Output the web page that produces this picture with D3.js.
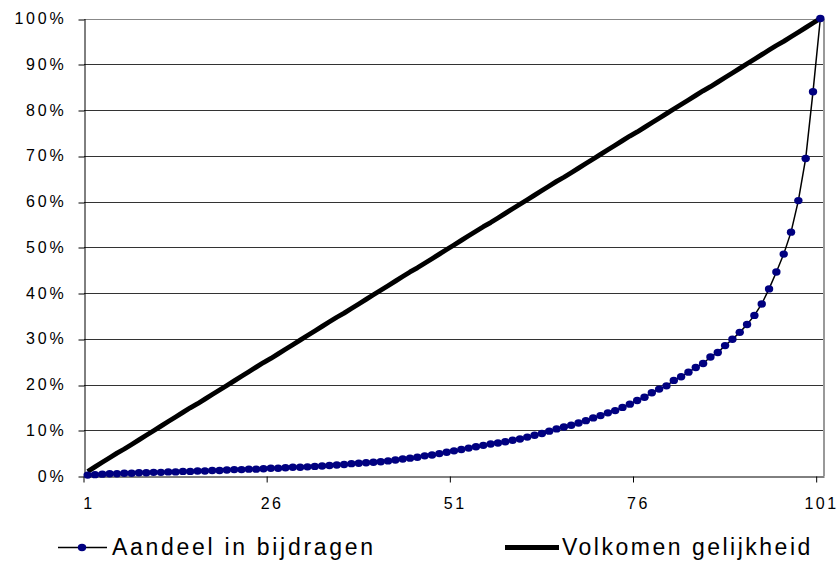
<!DOCTYPE html>
<html><head><meta charset="utf-8">
<script src="https://cdn.jsdelivr.net/npm/d3@7/dist/d3.min.js"></script>
<style>html,body{margin:0;padding:0;background:#fff;} svg{display:block;}</style>
</head><body>
<svg id="chart" width="838" height="562"></svg>
<script>
const categories = [1,2,3,4,5,6,7,8,9,10,11,12,13,14,15,16,17,18,19,20,21,22,23,24,25,26,27,28,29,30,31,32,33,34,35,36,37,38,39,40,41,42,43,44,45,46,47,48,49,50,51,52,53,54,55,56,57,58,59,60,61,62,63,64,65,66,67,68,69,70,71,72,73,74,75,76,77,78,79,80,81,82,83,84,85,86,87,88,89,90,91,92,93,94,95,96,97,98,99,100,101];
const aandeel = [0.2,0.3,0.4,0.5,0.5,0.6,0.6,0.7,0.7,0.8,0.8,0.9,0.9,1.0,1.0,1.1,1.1,1.2,1.2,1.3,1.4,1.4,1.5,1.5,1.6,1.7,1.7,1.8,1.9,1.9,2.0,2.1,2.2,2.3,2.4,2.5,2.7,2.8,2.9,3.0,3.1,3.3,3.5,3.7,3.9,4.1,4.4,4.6,4.9,5.2,5.5,5.8,6.1,6.4,6.7,7.0,7.2,7.5,7.8,8.1,8.5,8.9,9.3,9.8,10.3,10.7,11.1,11.6,12.1,12.7,13.2,13.8,14.3,15.0,15.7,16.5,17.2,18.2,19.0,19.7,20.9,21.7,22.7,23.7,24.6,26.0,27.0,28.5,29.9,31.4,33.1,35.1,37.6,40.9,44.6,48.5,53.3,60.2,69.4,84.0,100.0];
const gelijkheid = [1.0,2.0,3.0,4.0,5.0,5.9,6.9,7.9,8.9,9.9,10.9,11.9,12.9,13.9,14.9,15.8,16.8,17.8,18.8,19.8,20.8,21.8,22.8,23.8,24.8,25.7,26.7,27.7,28.7,29.7,30.7,31.7,32.7,33.7,34.7,35.6,36.6,37.6,38.6,39.6,40.6,41.6,42.6,43.6,44.6,45.5,46.5,47.5,48.5,49.5,50.5,51.5,52.5,53.5,54.5,55.4,56.4,57.4,58.4,59.4,60.4,61.4,62.4,63.4,64.4,65.3,66.3,67.3,68.3,69.3,70.3,71.3,72.3,73.3,74.3,75.2,76.2,77.2,78.2,79.2,80.2,81.2,82.2,83.2,84.2,85.1,86.1,87.1,88.1,89.1,90.1,91.1,92.1,93.1,94.1,95.0,96.0,97.0,98.0,99.0,100.0];
const xTickValues = [1,26,51,76,101];
const yTickValues = [0,10,20,30,40,50,60,70,80,90,100];
const seriesNames = ["Aandeel in bijdragen","Volkomen gelijkheid"];

const FONT = "Arial, 'Liberation Sans', sans-serif";
const svg = d3.select("#chart");
const L = 84, R = 824, T = 18.5, B = 476;

const x = d3.scaleBand().domain(categories).range([L, R]).padding(0);
const bw = x.bandwidth();
const cx = d => x(d) + bw / 2;
const y = d3.scaleLinear().domain([0, 100]).range([B, T]);
const snap = v => Math.round(v) + 0.5;

// gridlines
svg.append("g").selectAll("line").data(yTickValues.filter(v => v > 0)).join("line")
  .attr("x1", L).attr("x2", R)
  .attr("y1", d => snap(y(d))).attr("y2", d => snap(y(d)))
  .attr("stroke", d => d === 100 ? "#888" : "#333").attr("stroke-width", 1);

// right border
svg.append("line").attr("x1", R).attr("x2", R).attr("y1", snap(y(100)) - 0.5).attr("y2", B)
  .attr("stroke", "#999").attr("stroke-width", 2);

// y axis
const yAxis = svg.append("g").attr("transform", `translate(${L + 0.5},0)`)
  .call(d3.axisLeft(y).tickValues(yTickValues).tickSize(6).tickSizeOuter(0).tickPadding(12).tickFormat(d => d + "%"));
yAxis.select(".domain").attr("stroke", "#000");
yAxis.selectAll(".tick line").attr("stroke", "#000").attr("transform", function(d){ return `translate(0,${snap(y(d)) - y(d)})`; });
yAxis.selectAll("text").attr("font-family", FONT).attr("font-size", 16).attr("letter-spacing", "2.8px").attr("fill", "#000");

// x axis
const xAxis = svg.append("g").attr("transform", `translate(0,${B + 0.5})`)
  .call(d3.axisBottom(x).tickValues(xTickValues).tickSize(6).tickSizeOuter(0).tickPadding(15));
xAxis.select(".domain").attr("stroke", "#000");
xAxis.selectAll(".tick line").attr("stroke", "#000").attr("x1", -bw / 2).attr("x2", -bw / 2);
xAxis.selectAll("text").attr("font-family", FONT).attr("font-size", 16).attr("letter-spacing", "2.5px").attr("fill", "#000").attr("dx", "1.2px");

// equality line
svg.append("path").datum(categories)
  .attr("fill", "none").attr("stroke", "#000").attr("stroke-width", 4.8).attr("stroke-linejoin", "round")
  .attr("d", d3.line().x(d => cx(d)).y((d, i) => y(gelijkheid[i])));

// Lorenz line
svg.append("path").datum(categories)
  .attr("fill", "none").attr("stroke", "#000").attr("stroke-width", 1.5)
  .attr("d", d3.line().x(d => cx(d)).y((d, i) => y(aandeel[i])));

svg.append("g").selectAll("ellipse").data(categories).join("ellipse")
  .attr("cx", d => cx(d)).attr("cy", (d, i) => y(aandeel[i]))
  .attr("rx", 4.2).attr("ry", 3.7).attr("fill", "#000080");

// legend
const lg = svg.append("g");
const ly = 547.5;
lg.append("line").attr("x1", 58).attr("x2", 107).attr("y1", ly).attr("y2", ly).attr("stroke", "#000").attr("stroke-width", 1.5);
lg.append("ellipse").attr("cx", 82).attr("cy", ly).attr("rx", 4.2).attr("ry", 3.7).attr("fill", "#000080");
lg.append("text").attr("x", 112).attr("y", 555).text(seriesNames[0])
  .attr("font-family", FONT).attr("font-size", 23).attr("letter-spacing", "2.7px").attr("fill", "#000");
lg.append("line").attr("x1", 505).attr("x2", 559).attr("y1", ly).attr("y2", ly).attr("stroke", "#000").attr("stroke-width", 4.8);
lg.append("text").attr("x", 562).attr("y", 555).text(seriesNames[1])
  .attr("font-family", FONT).attr("font-size", 23).attr("letter-spacing", "2.5px").attr("fill", "#000");
</script>
</body></html>
